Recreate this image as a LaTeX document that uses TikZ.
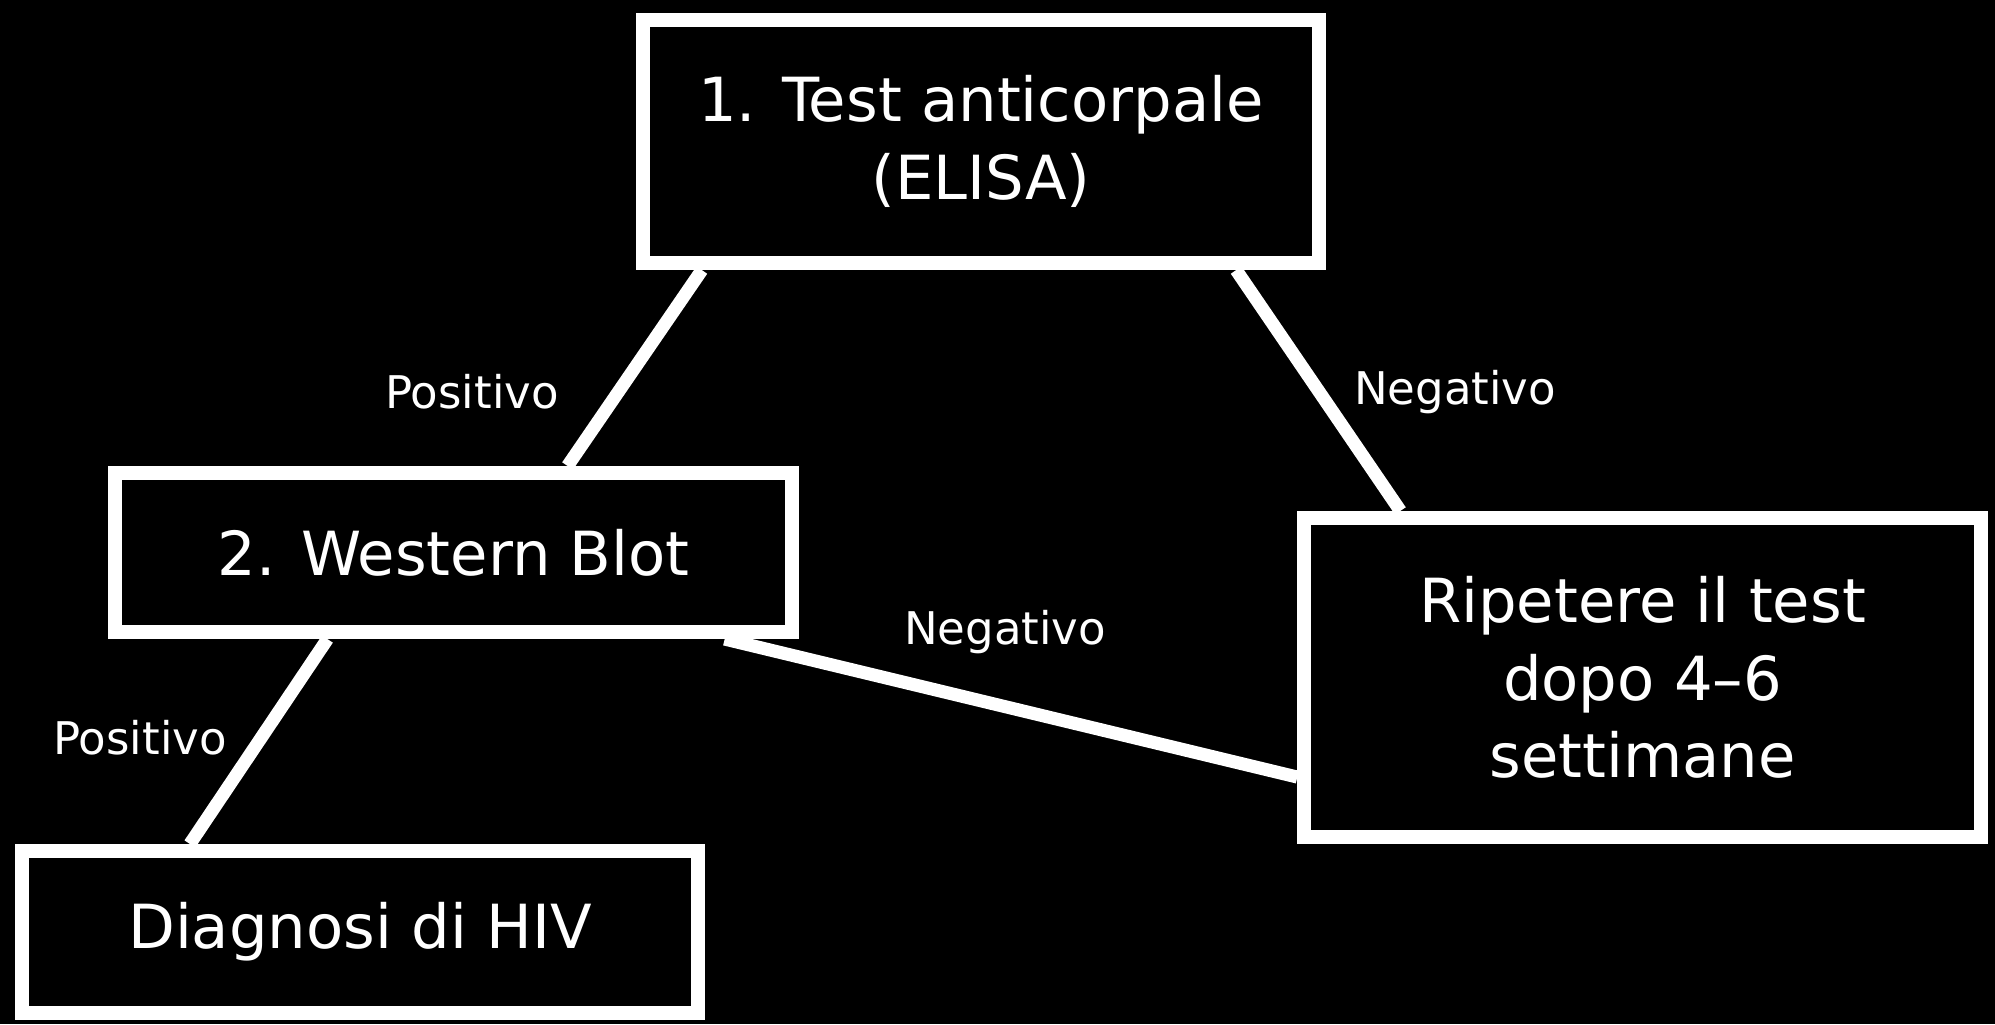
\documentclass[tikz,border=0pt]{standalone}
\usepackage{fontspec}
\setmainfont{DejaVu Sans}
\usetikzlibrary{backgrounds}

\begin{document}
\begin{tikzpicture}[x=0.01cm, y=-0.01cm,
		box/.style={draw=white, line width=0.14cm, fill=black, text=white, align=center, minimum width=6.76cm, font=\fontsize{17.3}{22}\selectfont},
		link/.style={white, line width=0.13cm},
		lab/.style={text=white, font=\fontsize{12.8}{15}\selectfont}]
		\useasboundingbox (0,0) rectangle (1995,1024);
		
		\node[box, minimum height=2.43cm] (elisa) at (981,141.5) {1. Test anticorpale\\(ELISA)};
		\node[box, minimum height=1.59cm] (wb) at (453.5,552.5) {2. Western Blot};
		\node[box, minimum height=3.19cm] (rip) at (1642.5,677.5) {Ripetere il test\\dopo 4--6\\settimane};
		\node[box, minimum height=1.62cm] (diag) at (360,932) {Diagnosi di HIV};
		
		\node[lab] (pos1) at (472,392) {Positivo};
		\node[lab] (neg1) at (1455,392) {Negativo};
		\node[lab] (neg2) at (1005,632) {Negativo};
		\node[lab] (pos2) at (140,738) {Positivo};
		
		\begin{scope}[on background layer]
			\fill[black] (0,0) rectangle (1995,1024);
			\draw[link] ([xshift=0.66cm]elisa.south west) -- ([xshift=4.59cm]wb.north west);
			\draw[link] ([xshift=6cm]elisa.south west) -- ([xshift=1.03cm]rip.north west);
			\draw[link] ([xshift=6.16cm]wb.south west) -- ([yshift=0.67cm]rip.south west);
			\draw[link] ([xshift=2.19cm]wb.south west) -- ([xshift=1.75cm]diag.north west);
		\end{scope}
	\end{tikzpicture}
\end{document}
